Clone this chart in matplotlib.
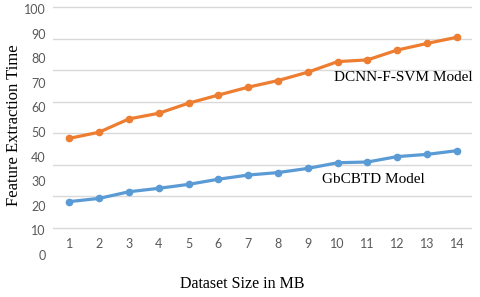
import numpy as np
from matplotlib import pyplot as plt
from matplotlib.ticker import FixedLocator

# values
sizes = list(range(1, 15))
dcnn = [47.4, 49.9, 55.3, 57.6, 61.7, 65.0, 68.2, 70.9, 74.3, 78.6, 79.3, 83.3, 86.0, 88.5]
gbcbtd = [21.7, 23.0, 25.7, 27.1, 28.7, 30.8, 32.5, 33.5, 35.2, 37.5, 37.8, 40.0, 40.9, 42.4]
y_ticks = list(range(0, 101, 10))

orange = "#ED7D31"
blue = "#5B9BD5"

fig = plt.figure(figsize=(4.8, 2.97), dpi=100)
ax = fig.add_axes([0.110, 0.1414, 0.873, 0.845])

ax.plot(sizes, dcnn, color=orange, lw=2.3, marker="o", ms=4.5)
ax.plot(sizes, gbcbtd, color=blue, lw=2.3, marker="o", ms=4.5)

ax.set_xlim(0.45, 14.5)
ax.set_ylim(0, 102)

ax.set_xticks(sizes)
ax.set_yticks(y_ticks)
# the gridlines in the picture do not sit on the labels
ax.yaxis.set_minor_locator(FixedLocator(np.linspace(11.1, 100.7, 8)))
ax.grid(which="minor", axis="y", color="#d9d9d9", lw=1)
ax.tick_params(which="both", length=0)
ax.tick_params(axis="y", labelsize=9, labelcolor="#595959", pad=5)
ax.tick_params(axis="x", labelsize=9, labelcolor="#595959", pad=-12)
for lab in ax.get_xticklabels() + ax.get_yticklabels():
    lab.set_family("Lato")
for s in ax.spines.values():
    s.set_visible(False)

ax.set_xlabel("Dataset Size in MB", family="Liberation Serif", fontsize=11.5)
ax.xaxis.set_label_coords(0.451, -0.085)
ax.set_ylabel("Feature Extraction Time", family="Liberation Serif", fontsize=12)
ax.yaxis.set_label_coords(-0.074, 0.518)

ax.text(9.87, 72, "DCNN-F-SVM Model", family="Liberation Serif", fontsize=11, va="center")
ax.text(9.49, 30.5, "GbCBTD Model", family="Liberation Serif", fontsize=11, va="center")

fig.savefig("out.png")
